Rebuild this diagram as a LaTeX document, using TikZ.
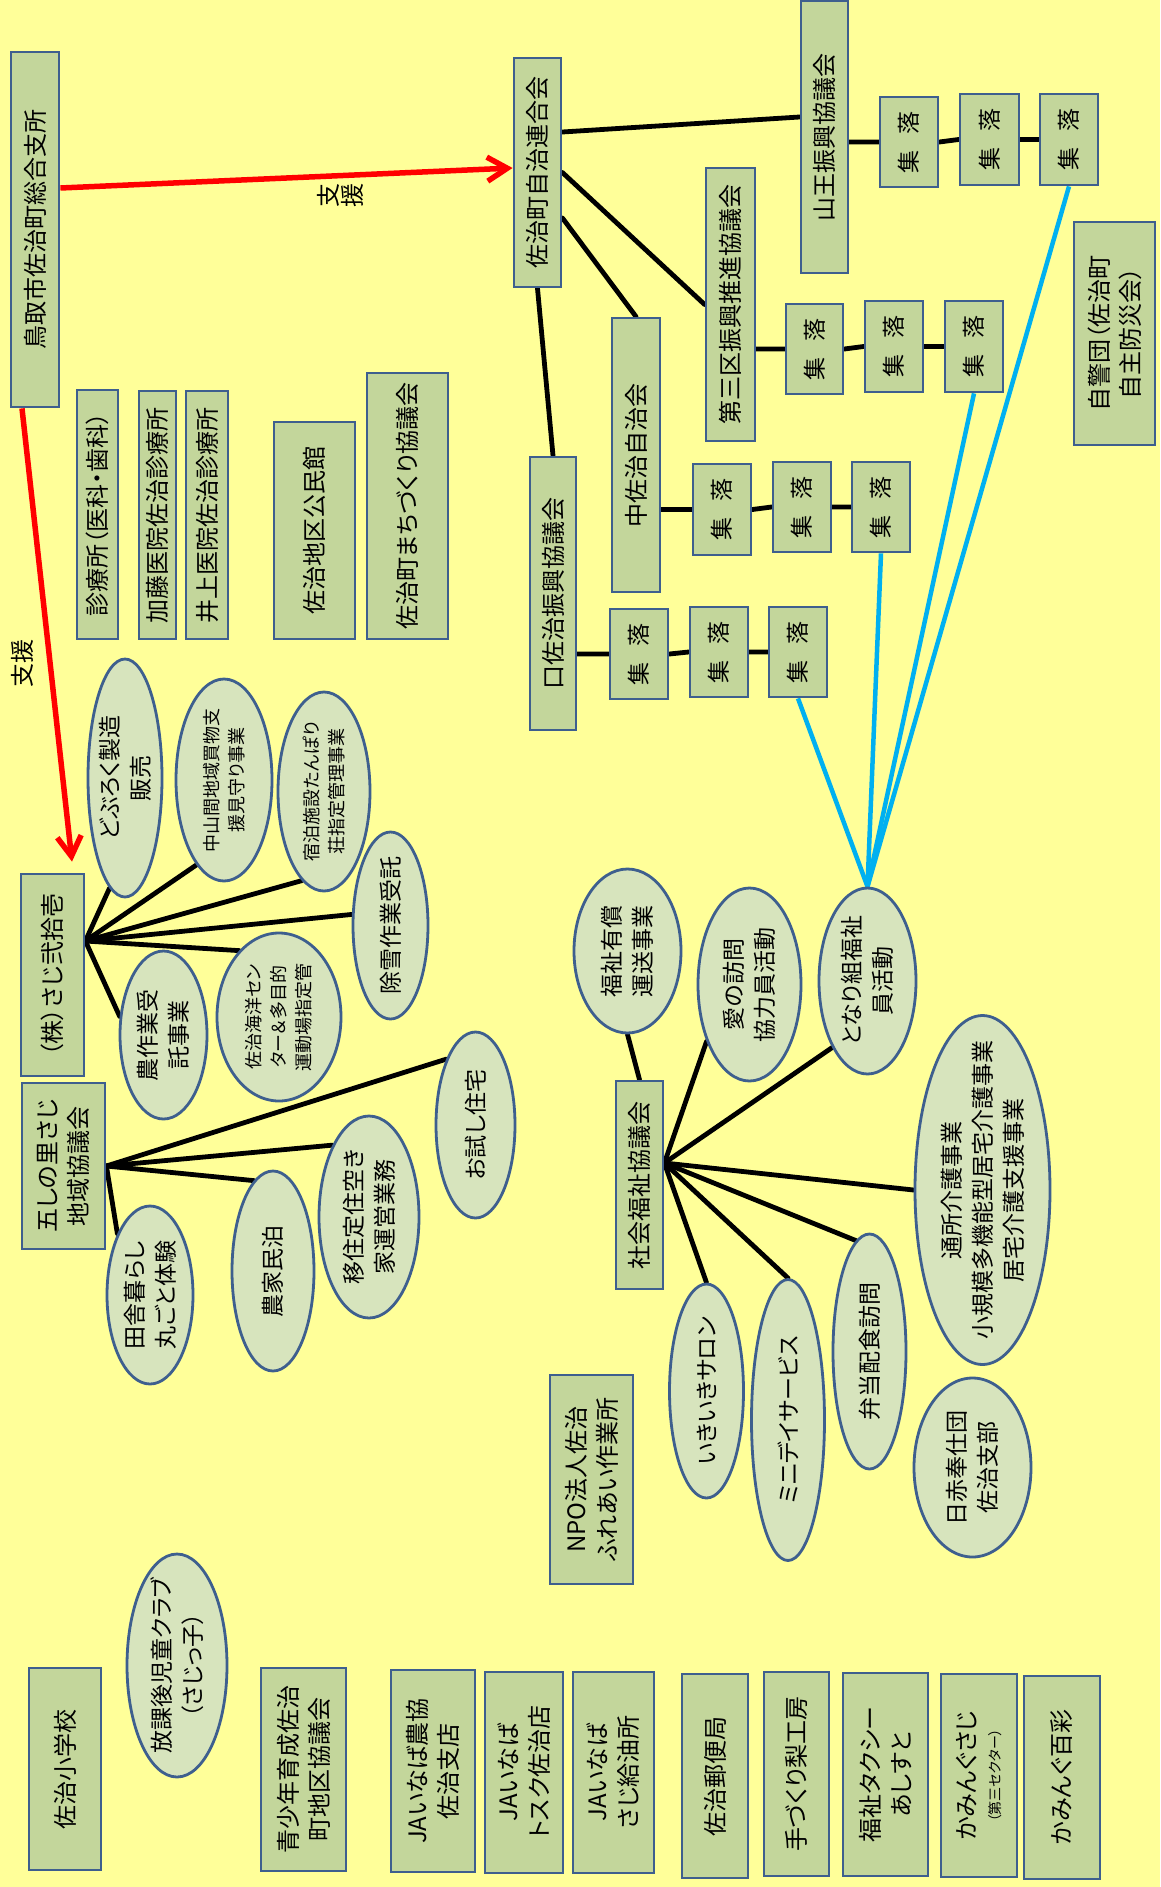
\documentclass[tikz,border=0pt]{standalone}
\usepackage{fontspec}
\setmainfont[RawFeature=+palt]{Noto Sans CJK JP}
\usetikzlibrary{shapes.geometric,arrows.meta}
\definecolor{bgy}{HTML}{FFFF99}
\definecolor{boxf}{HTML}{C3D69B}
\definecolor{ellf}{HTML}{D7E4BD}
\definecolor{bord}{HTML}{3E5F8E}
\definecolor{cyanl}{HTML}{00B0F0}
\pgfdeclarelayer{back}
\pgfdeclarelayer{lines}
\pgfsetlayers{back,lines,main}
\tikzset{
  sz/.style 2 args={minimum width=#1pt, minimum height=#2pt},
  bx/.style={rectangle, draw=bord, fill=boxf, line width=2.8pt, inner sep=0pt},
  el/.style={ellipse, draw=bord, fill=ellf, line width=2.8pt, inner sep=0pt},
  tx/.style={rotate=90, align=center, inner sep=0pt, font=\fontsize{24}{31}\selectfont},
  te/.style={tx, font=\fontsize{23}{31}\selectfont},
  ts/.style={tx, font=\fontsize{18}{25}\selectfont},
  conn/.style={line width=4.8pt, black, line cap=round},
  cyanline/.style={line width=4.5pt, cyanl},
  redarrow/.style={line width=5.5pt, red, -{Straight Barb[length=20pt,width=24pt]}},
}
\newcommand{\shu}{集\hspace{16pt}落}
\begin{document}
\begin{tikzpicture}[x=1pt,y=-1pt]
\path[use as bounding box] (0,0) rectangle (1160,1887);
\begin{pgfonlayer}{back}
\fill[bgy] (0,0) rectangle (1160,1887);
\end{pgfonlayer}

% ---- rectangles ----
\node[bx, sz={48}{355}, label={[tx]center:鳥取市佐治町総合支所}] (tottori) at (35,229.5) {};
\node[bx, sz={47}{229}, label={[tx]center:佐治町自治連合会}] (rengo) at (537.5,172.5) {};
\node[bx, sz={47}{272}, label={[tx]center:山王振興協議会}] (sanno) at (824.5,137) {};
\node[bx, sz={58}{90}, label={[te]center:\shu}] (s1) at (909,142) {};
\node[bx, sz={59}{91}, label={[te]center:\shu}] (s2) at (989.5,139.5) {};
\node[bx, sz={58}{91}, label={[te]center:\shu}] (s3) at (1069,139.5) {};
\node[bx, sz={49}{273}, label={[tx]center:第三区振興推進協議会}] (daisan) at (730.5,304.5) {};
\node[bx, sz={57}{90}, label={[te]center:\shu}] (d1) at (814.5,349) {};
\node[bx, sz={58}{91}, label={[te]center:\shu}] (d2) at (894,346.5) {};
\node[bx, sz={58}{91}, label={[te]center:\shu}] (d3) at (974,346.5) {};
\node[bx, sz={81}{223}, label={[tx]center:{自警団（佐治町\\自主防災会）}}] (jikei) at (1114.5,333.5) {};
\node[bx, sz={48}{274}, label={[tx]center:中佐治自治会}] (naka) at (636,455) {};
\node[bx, sz={58}{91}, label={[te]center:\shu}] (n1) at (722,509.5) {};
\node[bx, sz={58}{90}, label={[te]center:\shu}] (n2) at (802,507) {};
\node[bx, sz={58}{90}, label={[te]center:\shu}] (n3) at (881,507) {};
\node[bx, sz={46}{273}, label={[tx]center:口佐治振興協議会}] (kuchi) at (553,593.5) {};
\node[bx, sz={58}{90}, label={[te]center:\shu}] (k1) at (639,654) {};
\node[bx, sz={58}{90}, label={[te]center:\shu}] (k2) at (719,652) {};
\node[bx, sz={58}{90}, label={[te]center:\shu}] (k3) at (798,652) {};
\node[bx, sz={41}{249}, label={[tx]center:診療所（医科・歯科）}] (shinryo) at (97.5,514.5) {};
\node[bx, sz={37}{248}, label={[tx]center:加藤医院佐治診療所}] (kato) at (157.5,515) {};
\node[bx, sz={42}{248}, label={[tx]center:井上医院佐治診療所}] (inoue) at (207,515) {};
\node[bx, sz={81}{217}, label={[tx]center:佐治地区公民館}] (kominkan) at (314.5,530.5) {};
\node[bx, sz={81}{266}, label={[tx]center:佐治町まちづくり協議会}] (machi) at (407.5,506) {};
\node[bx, sz={63}{202}, label={[tx]center:（株）さじ弐拾壱}] (kabu) at (52.5,975) {};
\node[bx, sz={83}{166}, label={[tx]center:{五しの里さじ\\地域協議会}}] (goshi) at (63.5,1166) {};
\node[bx, sz={47}{208}, label={[tx]center:社会福祉協議会}] (shakyo) at (639.5,1185) {};
\node[bx, sz={83}{209}, label={[tx]center:{NPO法人佐治\\ふれあい作業所}}] (npo) at (591.5,1479.5) {};
\node[bx, sz={72}{202}, label={[tx]center:佐治小学校}] (school) at (65,1769) {};
\node[bx, sz={85}{203}, label={[tx]center:{青少年育成佐治\\町地区協議会}}] (seishonen) at (303.5,1769.5) {};
\node[bx, sz={84}{202}, label={[tx]center:{JAいなば農協\\佐治支店}}] (ja1) at (433,1771) {};
\node[bx, sz={78}{201}, label={[tx]center:{JAいなば\\トスク佐治店}}] (ja2) at (524,1772.5) {};
\node[bx, sz={81}{201}, label={[tx]center:{JAいなば\\さじ給油所}}] (ja3) at (613.5,1772.5) {};
\node[bx, sz={66}{204}, label={[tx]center:佐治郵便局}] (post) at (715,1776) {};
\node[bx, sz={65}{204}, label={[tx]center:手づくり梨工房}] (nashi) at (796.5,1774) {};
\node[bx, sz={85}{203}, label={[tx]center:{福祉タクシー\\あしすと}}] (taxi) at (885.5,1774.5) {};
\node[bx, sz={76}{203}, label={[tx]center:{かみんぐさじ\\[-6pt]{\fontsize{14}{16}\selectfont （第三セクター）}}}] (kaming) at (979,1775.5) {};
\node[bx, sz={76}{203}, label={[tx]center:かみんぐ百彩}] (hyakusai) at (1062,1777.5) {};

% ---- ellipses ----
\node[el, sz={74}{238}, label={[te]center:{どぶろく製造\\販売}}] (doburoku) at (125,778) {};
\node[el, sz={96}{202}, label={[ts]center:{中山間地域買物支\\援見守り事業}}] (chusan) at (224,780) {};
\node[el, sz={92}{199}, label={[ts]center:{宿泊施設たんぽり\\荘指定管理事業}}] (shukuhaku) at (324,791.5) {};
\node[el, sz={75}{187}, label={[te]center:除雪作業受託}] (josetsu) at (390.5,925.5) {};
\node[el, sz={124}{168}, label={[ts]center:{佐治海洋セン\\ター＆多目的\\運動場指定管}}] (kaiyo) at (279,1017) {};
\node[el, sz={87}{168}, label={[te]center:{農作業受\\託事業}}] (nousagyo) at (163.5,1035) {};
\node[el, sz={86}{178}, label={[te]center:{田舎暮らし\\丸ごと体験}}] (inaka) at (150,1295) {};
\node[el, sz={82}{200}, label={[te]center:農家民泊}] (minpaku) at (273,1271) {};
\node[el, sz={100}{202}, label={[te]center:{移住定住空き\\家運営業務}}] (iju) at (369,1217) {};
\node[el, sz={79}{186}, label={[te]center:お試し住宅}] (otameshi) at (475.5,1125) {};
\node[el, sz={107}{164}, label={[te]center:{福祉有償\\運送事業}}] (yusho) at (627.5,951) {};
\node[el, sz={103}{193}, label={[te]center:{愛の訪問\\協力員活動}}] (ai) at (749.5,984.5) {};
\node[el, sz={97}{186}, label={[te]center:{となり組福祉\\員活動}}] (tonari) at (867.5,981) {};
\node[el, sz={135}{349}, label={[te]center:{通所介護事業\\小規模多機能型居宅介護事業\\居宅介護支援事業}}] (tsusho) at (982.5,1190) {};
\node[el, sz={73}{235}, label={[te]center:弁当配食訪問}] (bento) at (869.5,1351.5) {};
\node[el, sz={73}{281}, label={[te]center:ミニデイサービス}] (minidei) at (788,1420) {};
\node[el, sz={74}{214}, label={[te]center:いきいきサロン}] (ikiiki) at (706.5,1391) {};
\node[el, sz={117}{179}, label={[te]center:{日赤奉仕団\\佐治支部}}] (nisseki) at (972.5,1467.5) {};
\node[el, sz={100}{223}, label={[te]center:{放課後児童クラブ\\（さじっ子）}}] (hokago) at (177,1665.5) {};

% ---- labels ----
\node[tx, font=\fontsize{24}{24}\selectfont] (shien1) at (340,195) {支\\援};
\node[tx] (shien2) at (22,663) {支援};

% ---- connectors ----
\begin{pgfonlayer}{lines}
\draw[conn] ([yshift=40.5pt]rengo.east) -- ([yshift=20pt]sanno.west);
\draw[conn] (rengo.east) -- (daisan.west);
\draw[conn] ([yshift=-45.5pt]rengo.east) -- (naka.north);
\draw[conn] (rengo.south) -- (kuchi.north);
\draw[conn] (sanno.east |- s1.west) -- (s1.west) (s1.east) -- (s2.west) (s2.east) -- (s3.west);
\draw[conn] (daisan.east |- d1.west) -- (d1.west) (d1.east) -- (d2.west) (d2.east) -- (d3.west);
\draw[conn] (naka.east |- n1.west) -- (n1.west) (n1.east) -- (n2.west) (n2.east) -- (n3.west);
\draw[conn] (kuchi.east |- k1.west) -- (k1.west) (k1.east) -- (k2.west) (k2.east) -- (k3.west);
\draw[cyanline] (s3.south) -- (tonari.north);
\draw[cyanline] (d3.south) -- (tonari.north);
\draw[cyanline] (n3.south) -- (tonari.north);
\draw[cyanline] (k3.south) -- (tonari.north);
\draw[conn] (shakyo.north) -- (yusho.south);
\draw[conn] ([yshift=22pt]shakyo.east) -- (ai.233);
\draw[conn] ([yshift=22pt]shakyo.east) -- (tonari.242);
\draw[conn] ([yshift=22pt]shakyo.east) -- (tsusho.west);
\draw[conn] ([yshift=22pt]shakyo.east) -- (bento.97);
\draw[conn] ([yshift=22pt]shakyo.east) -- (minidei.north);
\draw[conn] ([yshift=22pt]shakyo.east) -- (ikiiki.north);
\draw[conn] ([yshift=34pt]kabu.east) -- (doburoku.262);
\draw[conn] ([yshift=34pt]kabu.east) -- (chusan.252);
\draw[conn] ([yshift=34pt]kabu.east) -- (shukuhaku.256);
\draw[conn] ([yshift=34pt]kabu.east) -- (josetsu.164);
\draw[conn] ([yshift=34pt]kabu.east) -- (kaiyo.121);
\draw[conn] ([yshift=34pt]kabu.east) -- (nousagyo.157);
\draw[conn] (goshi.east) -- (inaka.118);
\draw[conn] (goshi.east) -- (minpaku.102);
\draw[conn] (goshi.east) -- (iju.117);
\draw[conn] (goshi.east) -- (otameshi.114);
\end{pgfonlayer}

\draw[redarrow] ([yshift=41.5pt]tottori.east) -- ([yshift=4.5pt]rengo.west);
\draw[redarrow] ([xshift=-13pt]tottori.south) -- ([xshift=19.5pt,yshift=11pt]kabu.north);
\end{tikzpicture}
\end{document}
